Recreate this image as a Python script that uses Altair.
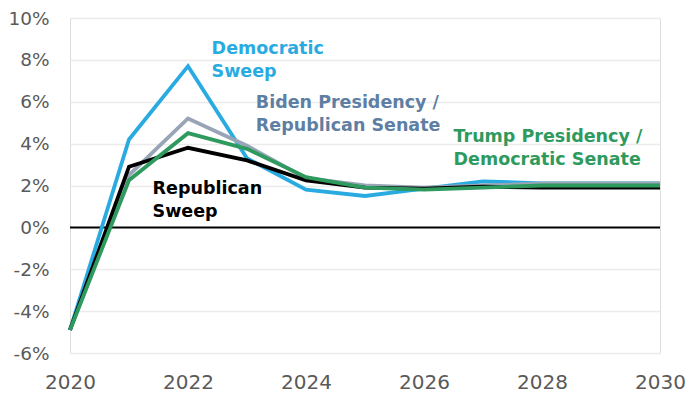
import altair as alt
import pandas as pd

years = [2020, 2021, 2022, 2023, 2024, 2025, 2026, 2027, 2028, 2029, 2030]
democratic_sweep = [-4.9, 4.2, 7.7, 3.3, 1.8, 1.5, 1.85, 2.2, 2.1, 2.1, 2.1]
biden_rep_senate = [-4.9, 2.5, 5.2, 3.9, 2.35, 2.0, 1.9, 2.0, 2.1, 2.1, 2.1]
republican_sweep = [-4.9, 2.9, 3.8, 3.2, 2.25, 1.9, 1.85, 1.95, 1.9, 1.9, 1.9]
trump_dem_senate = [-4.9, 2.25, 4.5, 3.75, 2.4, 1.9, 1.8, 1.9, 2.0, 2.0, 2.0]

series_names = ["Democratic Sweep", "Biden Presidency / Republican Senate",
                "Republican Sweep", "Trump Presidency / Democratic Senate"]
series_values = [democratic_sweep, biden_rep_senate, republican_sweep, trump_dem_senate]
line_colors = ["#29ABE2", "#97A5B6", "#000000", "#2E9A5E"]
label_colors = ["#29ABE2", "#5E7FA3", "#000000", "#2E9A5E"]

# annotation labels (two lines each), anchored in data units
label_lines = [["Democratic", "Sweep"], ["Biden Presidency /", "Republican Senate"],
               ["Republican", "Sweep"], ["Trump Presidency /", "Democratic Senate"]]
label_x = [2022.4, 2023.15, 2021.4, 2026.5]
label_y = [8.5, 5.95, 1.85, 4.3]

rows = []
for i, (name, vals) in enumerate(zip(series_names, series_values)):
    for yr, v in zip(years, vals):
        rows.append({"year": yr, "value": v, "series": name, "order": i})
df = pd.DataFrame(rows)

lab = pd.DataFrame({
    "x": label_x, "y": label_y, "text": label_lines, "series": series_names
})

FONT = "DejaVu Sans"

x = alt.X("year:Q", scale=alt.Scale(domain=[2020, 2030], nice=False),
          axis=alt.Axis(values=[2020, 2022, 2024, 2026, 2028, 2030], format="d",
                        grid=False, ticks=False, domain=False, labelFontSize=20,
                        labelColor="#5A5A5A", labelFont=FONT, labelPadding=19,
                        labelFlush=False, title=None))
y = alt.Y("value:Q", scale=alt.Scale(domain=[-6, 10], nice=False),
          axis=alt.Axis(values=list(range(-6, 11, 2)), labelExpr="datum.value + '%'",
                        grid=True, gridColor="#EBEBEB", gridWidth=1.5, ticks=False,
                        domain=False, labelFontSize=18.5, labelColor="#5A5A5A",
                        labelFont=FONT, labelPadding=21, title=None))

color = alt.Color("series:N", scale=alt.Scale(domain=series_names, range=line_colors), legend=None)

zero = alt.Chart(pd.DataFrame({"v": [0]})).mark_rule(color="black", strokeWidth=2).encode(y=alt.Y("v:Q"))

lines = alt.Chart(df).mark_line(strokeWidth=3.8).encode(
    x=x, y=y, color=color, detail="series:N", order="order:Q"
)

texts = alt.Chart(lab).mark_text(align="left", baseline="middle", fontSize=17.5,
                                  fontWeight="bold", font=FONT, lineHeight=23).encode(
    x="x:Q", y="y:Q", text="text",
    color=alt.Color("series:N", scale=alt.Scale(domain=series_names, range=label_colors), legend=None)
)

chart = alt.layer(zero, lines, texts).resolve_scale(color="independent").properties(
    width=590, height=335, autosize=alt.AutoSizeParams(type="none"),
    padding={"left": 70, "top": 18, "right": 27, "bottom": 41}
).configure_view(stroke=None).configure(background="white")

chart.save("out.html", embed_options={"renderer": "svg", "actions": False})
